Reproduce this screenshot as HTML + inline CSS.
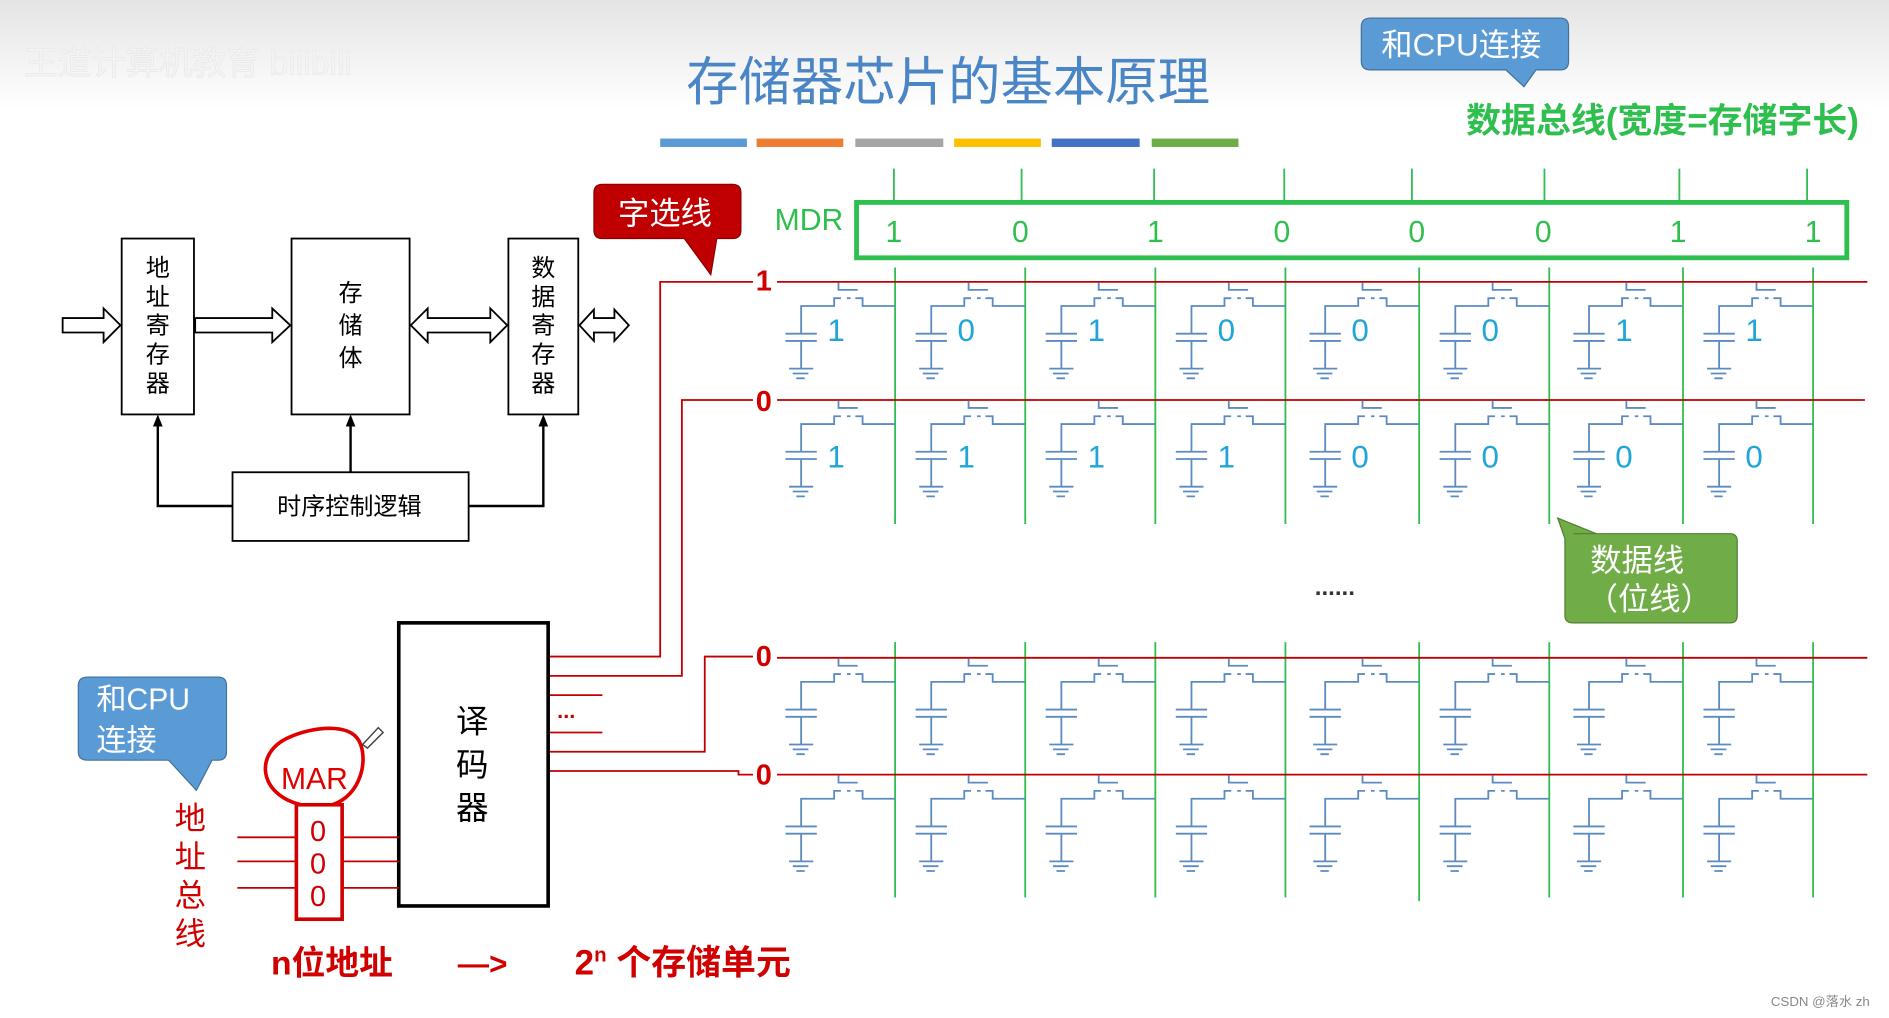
<!DOCTYPE html>
<html><head><meta charset="utf-8"><style>
html,body{margin:0;padding:0;background:#fff;}
svg{display:block;}
text{font-family:"Liberation Sans","Noto Sans CJK SC",sans-serif;}
.serif{font-family:"Liberation Serif","Noto Serif CJK SC",serif;}
</style></head><body>
<svg width="1889" height="1018" viewBox="0 0 1568 845" preserveAspectRatio="none" xmlns="http://www.w3.org/2000/svg">
<defs>
<linearGradient id="bg" x1="0" y1="0" x2="0" y2="1">
<stop offset="0" stop-color="#e4e4e4"/><stop offset="1" stop-color="#ffffff"/>
</linearGradient>
<g id="cell" fill="none" stroke="#5b8bc0" stroke-width="1.5">
<path d="M-47,0.5 V6.6 H-31 M-78,43 V20 H-50.6 V13.5 H-45 M-40,13.5 H-37 M-33,13.5 H-27 V20 H0 M-91,43 H-65 M-91,49 H-65 M-78,49 V72 M-88,72 H-68 M-85,76 H-72 M-82,80 H-75"/>
</g>
</defs>
<rect x="0" y="0" width="1568" height="90" fill="url(#bg)"/>
<rect x="0" y="90" width="1568" height="755" fill="#fff"/>
<text x="20" y="62" font-size="28" fill="#f4f4f4" stroke="#e8e8e8" stroke-width="0.6">王道计算机教育 bilibili</text>

<!-- Title -->
<text x="787" y="83" font-size="43.5" fill="#4a86c5" text-anchor="middle">存储器芯片的基本原理</text>
<rect x="548" y="115" width="72" height="7" fill="#5b9bd5"/>
<rect x="628" y="115" width="72" height="7" fill="#ed7d31"/>
<rect x="710" y="115" width="73" height="7" fill="#a5a5a5"/>
<rect x="792" y="115" width="72" height="7" fill="#ffc000"/>
<rect x="873" y="115" width="73" height="7" fill="#4472c4"/>
<rect x="956" y="115" width="72" height="7" fill="#70ad47"/>

<!-- CPU callout top -->
<path d="M1138,15 H1295 Q1302,15 1302,22 V51 Q1302,58 1295,58 H1275 L1265,72 L1250,58 H1138 Q1130,58 1130,51 V22 Q1130,15 1138,15 Z" fill="#5b9bd5" stroke="#41719c" stroke-width="1"/>
<text x="1213" y="46" font-size="26" fill="#fff" text-anchor="middle">和CPU连接</text>
<text x="1380" y="110" font-size="29" fill="#2fbf4f" font-weight="bold" text-anchor="middle">数据总线(宽度=存储字长)</text>

<!-- MDR -->
<text x="643" y="191" font-size="25" fill="#2fbf4f">MDR</text>
<rect x="711" y="168" width="822" height="46" fill="none" stroke="#2fbf4f" stroke-width="4"/>
<g fill="#2fbf4f" font-size="25" text-anchor="middle">
<text x="742" y="201">1</text><text x="847" y="201">0</text><text x="959" y="201">1</text><text x="1064" y="201">0</text>
<text x="1176" y="201">0</text><text x="1281" y="201">0</text><text x="1393" y="201">1</text><text x="1505" y="201">1</text>
</g>
<g stroke="#2fbf4f" stroke-width="1.5">
<path d="M742,140V168 M848,140V168 M958,140V168 M1066,140V168 M1172,140V168 M1282,140V168 M1394,140V168 M1500,140V168"/>
<path d="M743,222V435 M851,222V435 M959,222V435 M1067,222V435 M1178,222V435 M1286,222V435 M1397,222V435 M1505,222V435"/>
<path d="M743,533V745 M851,533V745 M959,533V745 M1067,533V745 M1178,533V748 M1286,533V745 M1397,533V745 M1505,533V745"/>
</g>

<!-- Word lines -->
<g stroke="#c00000" stroke-width="1.5" fill="none">
<path d="M645,234H1550 M645,332H1548 M645,546H1550 M645,643H1550"/>
<path d="M455,545H548V234H625 M455,561H566V332H625 M455,577H500 M455,608H500 M455,624H585V545H625 M455,640H613V643H625"/>
</g>
<g fill="#d00000" font-size="24" font-weight="bold" text-anchor="middle">
<text x="634" y="241">1</text><text x="634" y="341">0</text><text x="634" y="553">0</text><text x="634" y="651">0</text>
</g>
<text x="470" y="596" font-size="18" fill="#c00000" font-weight="bold" text-anchor="middle">...</text>

<!-- cells -->
<g>
<use href="#cell" x="743" y="234"/><use href="#cell" x="851" y="234"/><use href="#cell" x="959" y="234"/><use href="#cell" x="1067" y="234"/>
<use href="#cell" x="1178" y="234"/><use href="#cell" x="1286" y="234"/><use href="#cell" x="1397" y="234"/><use href="#cell" x="1505" y="234"/>
<use href="#cell" x="743" y="332"/><use href="#cell" x="851" y="332"/><use href="#cell" x="959" y="332"/><use href="#cell" x="1067" y="332"/>
<use href="#cell" x="1178" y="332"/><use href="#cell" x="1286" y="332"/><use href="#cell" x="1397" y="332"/><use href="#cell" x="1505" y="332"/>
<use href="#cell" x="743" y="546"/><use href="#cell" x="851" y="546"/><use href="#cell" x="959" y="546"/><use href="#cell" x="1067" y="546"/>
<use href="#cell" x="1178" y="546"/><use href="#cell" x="1286" y="546"/><use href="#cell" x="1397" y="546"/><use href="#cell" x="1505" y="546"/>
<use href="#cell" x="743" y="643"/><use href="#cell" x="851" y="643"/><use href="#cell" x="959" y="643"/><use href="#cell" x="1067" y="643"/>
<use href="#cell" x="1178" y="643"/><use href="#cell" x="1286" y="643"/><use href="#cell" x="1397" y="643"/><use href="#cell" x="1505" y="643"/>
</g>
<g fill="#1fa5d8" font-size="26" text-anchor="middle">
<text x="694" y="283">1</text><text x="802" y="283">0</text><text x="910" y="283">1</text><text x="1018" y="283">0</text>
<text x="1129" y="283">0</text><text x="1237" y="283">0</text><text x="1348" y="283">1</text><text x="1456" y="283">1</text>
<text x="694" y="388">1</text><text x="802" y="388">1</text><text x="910" y="388">1</text><text x="1018" y="388">1</text>
<text x="1129" y="388">0</text><text x="1237" y="388">0</text><text x="1348" y="388">0</text><text x="1456" y="388">0</text>
</g>
<text x="1108" y="494" font-size="20" font-weight="bold" fill="#333" text-anchor="middle">......</text>

<!-- data line callout -->
<path d="M1306,443 H1436 Q1442,443 1442,449 V511 Q1442,517 1436,517 H1306 Q1299,517 1299,511 V447 L1293,430 L1325,443 Z" fill="#70ad47" stroke="#507e32" stroke-width="1"/>
<text x="1359" y="474" font-size="26" fill="#fff" text-anchor="middle">数据线</text>
<text x="1369" y="506" font-size="26" fill="#fff" text-anchor="middle">（位线）</text>

<!-- 字选线 callout -->
<path d="M500,153 H608 Q615,153 615,160 V191 Q615,198 608,198 H595 L590,228 L568,198 H500 Q493,198 493,191 V160 Q493,153 500,153 Z" fill="#c00000" stroke="#8b0000" stroke-width="1"/>
<text x="552" y="186" font-size="26" fill="#fff" text-anchor="middle">字选线</text>

<!-- decoder -->
<rect x="331" y="517" width="124" height="235" fill="#fff" stroke="#000" stroke-width="3"/>
<g font-size="27" fill="#000" text-anchor="middle">
<text x="392" y="608">译</text><text x="392" y="644">码</text><text x="392" y="680">器</text>
</g>

<!-- left block diagram -->
<g fill="#fff" stroke="#000" stroke-width="1.5">
<rect x="101" y="198" width="60" height="146"/>
<rect x="242" y="198" width="98" height="146"/>
<rect x="422" y="198" width="58" height="146"/>
<rect x="193" y="392" width="196" height="57"/>
</g>
<g class="serif" font-size="20" fill="#000" text-anchor="middle">
<text x="131" y="229">地</text><text x="131" y="253">址</text><text x="131" y="277">寄</text><text x="131" y="301">存</text><text x="131" y="325">器</text>
<text x="291" y="250">存</text><text x="291" y="277">储</text><text x="291" y="304">体</text>
<text x="451" y="229">数</text><text x="451" y="253">据</text><text x="451" y="277">寄</text><text x="451" y="301">存</text><text x="451" y="325">器</text>
<text x="290" y="427">时序控制逻辑</text>
</g>
<g fill="#fff" stroke="#000" stroke-width="1.5">
<polygon points="52,264 86,264 86,256 100,270 86,284 86,276 52,276"/>
<polygon points="162,264 226,264 226,256 241,270 226,284 226,276 162,276"/>
<polygon points="341,270 355,256 355,264 407,264 407,256 421,270 407,284 407,276 355,276 355,284"/>
<polygon points="481,270 493,257 493,264 510,264 510,257 522,270 510,283 510,276 493,276 493,283"/>
</g>
<g stroke="#000" stroke-width="2" fill="none">
<path d="M193,420H131V352 M291,392V352 M389,420H451V352"/>
</g>
<g fill="#000">
<polygon points="131,344 127,354 135,354"/><polygon points="291,344 287,354 295,354"/><polygon points="451,344 447,354 455,354"/>
</g>

<!-- CPU callout lower left -->
<path d="M73,562 H181 Q188,562 188,569 V624 Q188,631 181,631 H176 L163,656 L140,631 H73 Q65,631 65,624 V569 Q65,562 73,562 Z" fill="#5b9bd5" stroke="#41719c" stroke-width="1"/>
<text x="80" y="589" font-size="25" fill="#fff">和CPU</text>
<text x="80" y="623" font-size="25" fill="#fff">连接</text>

<!-- address bus -->
<g fill="#d00000" font-size="26" text-anchor="middle">
<text x="158" y="688">地</text><text x="158" y="720">址</text><text x="158" y="752">总</text><text x="158" y="784">线</text>
</g>
<g stroke="#c00000" stroke-width="1.5"><path d="M197,695H331 M197,715H331 M197,737H331"/></g>
<rect x="246" y="668" width="38" height="95" fill="#fff" stroke="#d00000" stroke-width="3"/>
<g fill="#d00000" font-size="24" text-anchor="middle">
<text x="264" y="698">0</text><text x="264" y="725">0</text><text x="264" y="752">0</text>
</g>
<path d="M250,668 C215,660 210,625 240,612 C260,603 290,600 298,615 C306,630 300,660 276,668" fill="none" stroke="#e00000" stroke-width="3"/>
<text x="261" y="655" font-size="25" fill="#e00000" text-anchor="middle">MAR</text>
<path d="M301,618 L314,604 L318,608 L305,621 Z" fill="#fff" stroke="#444" stroke-width="1.2"/>

<text x="225" y="809" font-size="28" font-weight="bold" fill="#d00000">n位地址</text>
<text x="380" y="809" font-size="26" font-weight="bold" fill="#d00000">—&gt;</text>
<text x="477" y="809" font-size="29" font-weight="bold" fill="#d00000">2<tspan font-size="17" dy="-11">n</tspan><tspan dy="11"> 个存储单元</tspan></text>

<text x="1470" y="835" font-size="11" fill="#888">CSDN @落水 zh</text>
</svg>
</body></html>
